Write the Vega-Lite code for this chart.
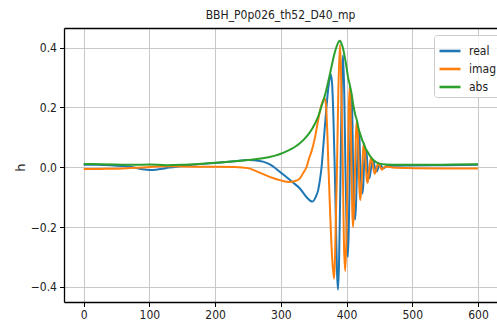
{
  "$schema": "https://vega.github.io/schema/vega-lite/v6.json",
  "autosize": {"type": "none"},
  "padding": {"left": 64, "top": 28, "right": 0, "bottom": 30},
  "width": 433,
  "height": 274,
  "background": "white",
  "title": {"text": "BBH_P0p026_th52_D40_mp", "fontSize": 12, "font": "Liberation Sans Narrow, DejaVu Sans Condensed, DejaVu Sans", "fontWeight": "normal", "color": "#222222", "offset": 6, "anchor": "middle"},
  "config": {
    "view": {"stroke": null},
    "axis": {"labelFont": "Liberation Sans Narrow, DejaVu Sans Condensed, DejaVu Sans", "labelFontSize": 12, "labelColor": "#222222", "tickColor": "#000000", "tickSize": 4.5, "tickWidth": 1, "domainColor": "#000000", "domainWidth": 1.3, "gridColor": "#c8c8c8", "gridWidth": 1, "labelPadding": 3}
  },
  "data": {"values": [
    {"t": 0, "s": "real", "h": 0.008}, {"t": 20, "s": "real", "h": 0.008}, {"t": 40, "s": "real", "h": 0.007}, {"t": 60, "s": "real", "h": 0.004}, {"t": 75, "s": "real", "h": 0.0}, {"t": 90, "s": "real", "h": -0.007}, {"t": 100, "s": "real", "h": -0.009}, {"t": 110, "s": "real", "h": -0.008}, {"t": 125, "s": "real", "h": -0.003}, {"t": 140, "s": "real", "h": 0.002}, {"t": 160, "s": "real", "h": 0.007}, {"t": 200, "s": "real", "h": 0.014}, {"t": 230, "s": "real", "h": 0.02}, {"t": 250, "s": "real", "h": 0.024}, {"t": 268, "s": "real", "h": 0.021}, {"t": 280, "s": "real", "h": 0.013}, {"t": 288, "s": "real", "h": 0.003}, {"t": 300, "s": "real", "h": -0.018}, {"t": 308, "s": "real", "h": -0.032}, {"t": 318, "s": "real", "h": -0.05}, {"t": 329, "s": "real", "h": -0.071}, {"t": 340, "s": "real", "h": -0.102}, {"t": 348, "s": "real", "h": -0.115}, {"t": 353, "s": "real", "h": -0.1}, {"t": 357, "s": "real", "h": -0.075}, {"t": 360, "s": "real", "h": -0.035}, {"t": 362, "s": "real", "h": 0.0}, {"t": 365, "s": "real", "h": 0.08}, {"t": 369, "s": "real", "h": 0.19}, {"t": 372, "s": "real", "h": 0.26}, {"t": 376, "s": "real", "h": 0.31}, {"t": 378, "s": "real", "h": 0.28}, {"t": 380, "s": "real", "h": 0.17}, {"t": 382, "s": "real", "h": 0.0}, {"t": 384, "s": "real", "h": -0.2}, {"t": 385.5, "s": "real", "h": -0.35}, {"t": 387, "s": "real", "h": -0.41}, {"t": 388.5, "s": "real", "h": -0.33}, {"t": 391, "s": "real", "h": 0.0}, {"t": 393, "s": "real", "h": 0.3}, {"t": 394.7, "s": "real", "h": 0.375}, {"t": 396.5, "s": "real", "h": 0.25}, {"t": 398.3, "s": "real", "h": 0.0}, {"t": 400.3, "s": "real", "h": -0.22}, {"t": 402, "s": "real", "h": -0.3}, {"t": 403.5, "s": "real", "h": -0.2}, {"t": 405, "s": "real", "h": 0.0}, {"t": 406.3, "s": "real", "h": 0.17}, {"t": 407.5, "s": "real", "h": 0.245}, {"t": 408.8, "s": "real", "h": 0.17}, {"t": 410, "s": "real", "h": 0.0}, {"t": 411.5, "s": "real", "h": -0.14}, {"t": 413, "s": "real", "h": -0.175}, {"t": 414.5, "s": "real", "h": -0.12}, {"t": 416, "s": "real", "h": 0.0}, {"t": 417.3, "s": "real", "h": 0.09}, {"t": 418.5, "s": "real", "h": 0.125}, {"t": 419.8, "s": "real", "h": 0.09}, {"t": 421, "s": "real", "h": 0.0}, {"t": 422.5, "s": "real", "h": -0.06}, {"t": 424, "s": "real", "h": -0.088}, {"t": 425.5, "s": "real", "h": -0.06}, {"t": 426.5, "s": "real", "h": 0.0}, {"t": 428, "s": "real", "h": 0.045}, {"t": 429.5, "s": "real", "h": 0.058}, {"t": 431, "s": "real", "h": 0.035}, {"t": 432, "s": "real", "h": 0.0}, {"t": 433.5, "s": "real", "h": -0.03}, {"t": 435, "s": "real", "h": -0.037}, {"t": 437.5, "s": "real", "h": 0.0}, {"t": 440.5, "s": "real", "h": 0.024}, {"t": 443, "s": "real", "h": 0.0}, {"t": 446, "s": "real", "h": -0.014}, {"t": 448.5, "s": "real", "h": 0.0}, {"t": 451.5, "s": "real", "h": 0.009}, {"t": 454, "s": "real", "h": 0.0}, {"t": 457, "s": "real", "h": -0.003}, {"t": 460, "s": "real", "h": 0.003}, {"t": 470, "s": "real", "h": 0.005}, {"t": 500, "s": "real", "h": 0.006}, {"t": 550, "s": "real", "h": 0.007}, {"t": 600, "s": "real", "h": 0.008},

    {"t": 0, "s": "imag", "h": -0.006}, {"t": 20, "s": "imag", "h": -0.006}, {"t": 40, "s": "imag", "h": -0.005}, {"t": 60, "s": "imag", "h": -0.004}, {"t": 80, "s": "imag", "h": -0.002}, {"t": 100, "s": "imag", "h": 0.001}, {"t": 120, "s": "imag", "h": 0.003}, {"t": 140, "s": "imag", "h": 0.003}, {"t": 170, "s": "imag", "h": 0.002}, {"t": 200, "s": "imag", "h": 0.002}, {"t": 230, "s": "imag", "h": 0.001}, {"t": 250, "s": "imag", "h": -0.003}, {"t": 268, "s": "imag", "h": -0.018}, {"t": 288, "s": "imag", "h": -0.036}, {"t": 300, "s": "imag", "h": -0.044}, {"t": 313, "s": "imag", "h": -0.049}, {"t": 322, "s": "imag", "h": -0.046}, {"t": 329, "s": "imag", "h": -0.037}, {"t": 335, "s": "imag", "h": -0.016}, {"t": 339, "s": "imag", "h": 0.0}, {"t": 343, "s": "imag", "h": 0.03}, {"t": 347, "s": "imag", "h": 0.055}, {"t": 352, "s": "imag", "h": 0.1}, {"t": 357, "s": "imag", "h": 0.16}, {"t": 362, "s": "imag", "h": 0.21}, {"t": 367, "s": "imag", "h": 0.23}, {"t": 369, "s": "imag", "h": 0.2}, {"t": 371, "s": "imag", "h": 0.1}, {"t": 372.5, "s": "imag", "h": 0.0}, {"t": 375, "s": "imag", "h": -0.15}, {"t": 378, "s": "imag", "h": -0.3}, {"t": 381, "s": "imag", "h": -0.373}, {"t": 382.5, "s": "imag", "h": -0.3}, {"t": 385.5, "s": "imag", "h": 0.0}, {"t": 387.5, "s": "imag", "h": 0.25}, {"t": 390, "s": "imag", "h": 0.41}, {"t": 391.5, "s": "imag", "h": 0.33}, {"t": 394.3, "s": "imag", "h": 0.0}, {"t": 396, "s": "imag", "h": -0.25}, {"t": 398, "s": "imag", "h": -0.347}, {"t": 400, "s": "imag", "h": -0.22}, {"t": 402, "s": "imag", "h": 0.0}, {"t": 403.5, "s": "imag", "h": 0.2}, {"t": 405, "s": "imag", "h": 0.27}, {"t": 406.3, "s": "imag", "h": 0.18}, {"t": 407.5, "s": "imag", "h": 0.0}, {"t": 408.8, "s": "imag", "h": -0.15}, {"t": 410, "s": "imag", "h": -0.2}, {"t": 411.5, "s": "imag", "h": -0.13}, {"t": 413, "s": "imag", "h": 0.0}, {"t": 414.5, "s": "imag", "h": 0.12}, {"t": 416, "s": "imag", "h": 0.155}, {"t": 417.3, "s": "imag", "h": 0.1}, {"t": 418.5, "s": "imag", "h": 0.0}, {"t": 419.8, "s": "imag", "h": -0.08}, {"t": 421, "s": "imag", "h": -0.11}, {"t": 422.5, "s": "imag", "h": -0.07}, {"t": 424, "s": "imag", "h": 0.0}, {"t": 425.3, "s": "imag", "h": 0.06}, {"t": 426.5, "s": "imag", "h": 0.078}, {"t": 428, "s": "imag", "h": 0.05}, {"t": 429.5, "s": "imag", "h": 0.0}, {"t": 430.8, "s": "imag", "h": -0.04}, {"t": 432, "s": "imag", "h": -0.052}, {"t": 433.5, "s": "imag", "h": -0.03}, {"t": 435, "s": "imag", "h": 0.0}, {"t": 437.5, "s": "imag", "h": 0.034}, {"t": 440.5, "s": "imag", "h": 0.0}, {"t": 443, "s": "imag", "h": -0.022}, {"t": 446, "s": "imag", "h": 0.0}, {"t": 448.5, "s": "imag", "h": 0.014}, {"t": 451.5, "s": "imag", "h": 0.0}, {"t": 454, "s": "imag", "h": -0.008}, {"t": 457, "s": "imag", "h": 0.0}, {"t": 460, "s": "imag", "h": 0.002}, {"t": 470, "s": "imag", "h": -0.001}, {"t": 500, "s": "imag", "h": -0.003}, {"t": 550, "s": "imag", "h": -0.004}, {"t": 600, "s": "imag", "h": -0.004},

    {"t": 0, "s": "abs", "h": 0.011}, {"t": 25, "s": "abs", "h": 0.01}, {"t": 50, "s": "abs", "h": 0.009}, {"t": 75, "s": "abs", "h": 0.008}, {"t": 100, "s": "abs", "h": 0.009}, {"t": 125, "s": "abs", "h": 0.007}, {"t": 150, "s": "abs", "h": 0.008}, {"t": 175, "s": "abs", "h": 0.011}, {"t": 200, "s": "abs", "h": 0.015}, {"t": 225, "s": "abs", "h": 0.019}, {"t": 250, "s": "abs", "h": 0.024}, {"t": 270, "s": "abs", "h": 0.029}, {"t": 290, "s": "abs", "h": 0.038}, {"t": 300, "s": "abs", "h": 0.045}, {"t": 310, "s": "abs", "h": 0.055}, {"t": 320, "s": "abs", "h": 0.066}, {"t": 329, "s": "abs", "h": 0.08}, {"t": 340, "s": "abs", "h": 0.105}, {"t": 348, "s": "abs", "h": 0.13}, {"t": 356, "s": "abs", "h": 0.165}, {"t": 362, "s": "abs", "h": 0.205}, {"t": 367, "s": "abs", "h": 0.24}, {"t": 372, "s": "abs", "h": 0.285}, {"t": 377, "s": "abs", "h": 0.335}, {"t": 381, "s": "abs", "h": 0.375}, {"t": 385, "s": "abs", "h": 0.405}, {"t": 388, "s": "abs", "h": 0.42}, {"t": 390, "s": "abs", "h": 0.423}, {"t": 392, "s": "abs", "h": 0.415}, {"t": 395, "s": "abs", "h": 0.395}, {"t": 398, "s": "abs", "h": 0.36}, {"t": 400, "s": "abs", "h": 0.335}, {"t": 402, "s": "abs", "h": 0.305}, {"t": 405, "s": "abs", "h": 0.275}, {"t": 407.5, "s": "abs", "h": 0.248}, {"t": 410, "s": "abs", "h": 0.212}, {"t": 413, "s": "abs", "h": 0.178}, {"t": 416, "s": "abs", "h": 0.155}, {"t": 418.5, "s": "abs", "h": 0.128}, {"t": 421, "s": "abs", "h": 0.11}, {"t": 424, "s": "abs", "h": 0.09}, {"t": 426.5, "s": "abs", "h": 0.078}, {"t": 429.5, "s": "abs", "h": 0.06}, {"t": 432, "s": "abs", "h": 0.052}, {"t": 435, "s": "abs", "h": 0.04}, {"t": 440, "s": "abs", "h": 0.026}, {"t": 445, "s": "abs", "h": 0.017}, {"t": 450, "s": "abs", "h": 0.012}, {"t": 460, "s": "abs", "h": 0.009}, {"t": 480, "s": "abs", "h": 0.008}, {"t": 520, "s": "abs", "h": 0.008}, {"t": 560, "s": "abs", "h": 0.009}, {"t": 600, "s": "abs", "h": 0.01}
  ]},
  "layer": [
    {
      "mark": {"type": "line", "strokeWidth": 2, "interpolate": "monotone", "clip": true},
      "encoding": {
        "x": {"field": "t", "type": "quantitative", "scale": {"domain": [-30, 629], "nice": false, "zero": false}, "axis": {"orient": "bottom", "values": [0, 100, 200, 300, 400, 500, 600], "title": null, "grid": true, "labelFlush": false}},
        "y": {"field": "h", "type": "quantitative", "scale": {"domain": [-0.451, 0.466], "nice": false, "zero": false}, "axis": {"values": [-0.4, -0.2, 0, 0.2, 0.4], "format": ".1f", "grid": true, "title": "h", "titleFont": "DejaVu Sans", "titleFontSize": 13, "titleFontWeight": "normal", "titleColor": "#222222", "titleAngle": 270, "titleX": -44, "titleY": 139, "titleAlign": "center", "titleBaseline": "middle", "labelFlush": false}},
        "color": {"field": "s", "type": "nominal", "sort": ["real", "imag", "abs"], "scale": {"domain": ["real", "imag", "abs"], "range": ["#1f77b4", "#ff7f0e", "#2ca02c"]}, "legend": {"orient": "none", "legendX": 370, "legendY": 7, "title": null, "symbolType": "stroke", "symbolSize": 441, "symbolStrokeWidth": 2.6, "labelFont": "Liberation Sans Narrow, DejaVu Sans Condensed, DejaVu Sans", "labelFontSize": 12, "labelColor": "#222222", "labelOffset": 7, "rowPadding": 0, "padding": 4, "strokeColor": "#cccccc", "fillColor": "rgba(255,255,255,0.8)", "cornerRadius": 3}}
      }
    },
    {
      "transform": [{"filter": "datum.t > 10000"}],
      "mark": {"type": "line"},
      "encoding": {
        "x": {"field": "t", "type": "quantitative", "scale": {"domain": [-30, 629], "nice": false, "zero": false}, "axis": {"orient": "top", "labels": false, "ticks": false, "grid": false, "title": null}},
        "y": {"field": "h", "type": "quantitative"}
      }
    }
  ],
  "resolve": {"axis": {"x": "independent"}}
}
